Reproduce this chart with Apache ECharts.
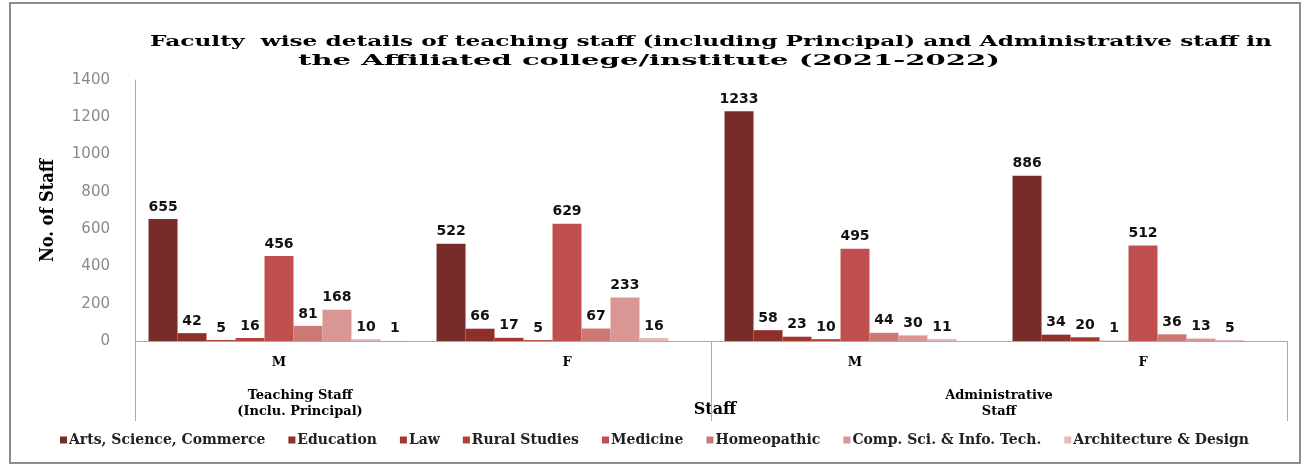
<!DOCTYPE html>
<html>
<head>
<meta charset="utf-8">
<script src="https://cdn.jsdelivr.net/npm/echarts@6/dist/echarts.min.js"></script>
<style>
html,body{margin:0;padding:0;background:#fff;}
#c{width:1309px;height:473px;}
</style>
</head>
<body>
<div id="c"></div>
<script>
const titleLines = ['Faculty  wise details of teaching staff (including Principal) and Administrative staff in', 'the Affiliated college/institute (2021-2022)'];
const categories = ['M', 'F', 'M', 'F'];
const groups = ['Teaching Staff\n(Inclu. Principal)', 'Administrative\nStaff'];
const seriesNames = ['Arts, Science, Commerce', 'Education', 'Law', 'Rural Studies', 'Medicine', 'Homeopathic', 'Comp. Sci. & Info. Tech.', 'Architecture & Design', 'Others'];
const artsSciCom   = [655, 522, 1233, 886];
const education    = [42, 66, 58, 34];
const law          = [5, 17, 23, 20];
const ruralStudies = [16, 5, 10, 1];
const medicine     = [456, 629, 495, 512];
const homeopathic  = [81, 67, 44, 36];
const compSci      = [168, 233, 30, 13];
const architecture = [10, 16, 11, 5];
const others       = [1, null, null, null];
const yTicks = [0, 200, 400, 600, 800, 1000, 1200, 1400];

const values = [artsSciCom, education, law, ruralStudies, medicine, homeopathic, compSci, architecture, others];
const colors = ['#772c2a', '#8e2f2c', '#a2372f', '#b3423d', '#c0504d', '#cc7876', '#d99694', '#e6b9b8', '#f0d5d4'];

const serif = '"DejaVu Serif", serif';
const titleFont = 'bold 14px "DejaVu Serif", serif';
// stretch title lines horizontally to the reference's wide typeface
const ctx = document.createElement('canvas').getContext('2d');
ctx.font = titleFont;
const titleSpans = [[150, 1272], [298, 1000]];
const titleY = [35, 54];
const titleGraphics = titleLines.map(function (t, i) {
  const w = ctx.measureText(t).width;
  const target = titleSpans[i][1] - titleSpans[i][0];
  return {
    type: 'text', x: (titleSpans[i][0] + titleSpans[i][1]) / 2, y: titleY[i],
    scaleX: target / w, silent: true,
    style: { text: t, x: 0, y: 0, align: 'center', verticalAlign: 'top', font: titleFont, fill: '#000' }
  };
});

const chart = echarts.init(document.getElementById('c'));
const option = {
  animation: false,
  backgroundColor: '#fff',
  graphic: [{
    type: 'rect', shape: { x: 10, y: 3, width: 1290, height: 460 },
    style: { fill: 'none', stroke: '#8c8c8c', lineWidth: 2 }, silent: true
  }].concat(titleGraphics),
  legend: {
    data: seriesNames.slice(0, 8),
    bottom: 21, left: 'center',
    itemWidth: 7, itemHeight: 7, itemGap: 23,
    icon: 'rect',
    textStyle: { fontFamily: serif, fontWeight: 'bold', fontSize: 14, color: '#222', padding: [0, 0, 0, -3] }
  },
  grid: { left: 135, right: 22, top: 80, bottom: 132 },
  xAxis: [{
    type: 'category', data: categories, position: 'bottom',
    axisLine: { lineStyle: { color: '#aaa' } },
    axisTick: { show: false },
    axisLabel: { margin: 15, fontFamily: serif, fontWeight: 'bold', fontSize: 13, color: '#000' }
  }, {
    type: 'category', data: groups, position: 'bottom',
    axisLine: { show: false },
    axisTick: { show: true, length: 80, lineStyle: { color: '#aaa' } },
    axisLabel: {
      margin: 47, interval: 0,
      formatter: function (v, i) { return i === 0 ? '{a|' + v.replace('\n', '}\n{a|') + '}' : '{b|' + v.replace('\n', '}\n{b|') + '}'; },
      rich: {
        a: { fontFamily: serif, fontWeight: 'bold', fontSize: 13, color: '#000', lineHeight: 16, padding: [0, 246, 0, 0] },
        b: { fontFamily: serif, fontWeight: 'bold', fontSize: 13, color: '#000', lineHeight: 16 }
      }
    },
    name: 'Staff', nameLocation: 'middle', nameGap: 61, nameMoveOverlap: false,
    nameTextStyle: { fontFamily: serif, fontWeight: 'bold', fontSize: 16, color: '#000', padding: [0, 0, 0, 8] }
  }],
  yAxis: {
    type: 'value', min: 0, max: 1400, interval: 200,
    axisLine: { show: true, lineStyle: { color: '#aaa' } },
    axisTick: { show: false },
    splitLine: { show: false },
    axisLabel: { margin: 25, fontFamily: '"DejaVu Sans", sans-serif', fontSize: 15, color: '#8a8a8a',
      formatter: function (v) { return yTicks.indexOf(v) >= 0 ? String(v) : ''; } },
    name: 'No. of Staff', nameLocation: 'middle', nameGap: 78, nameRotate: 90, nameMoveOverlap: false,
    nameTextStyle: { fontFamily: '"DejaVu Serif Condensed", "DejaVu Serif", serif', fontWeight: 'bold', fontSize: 18, color: '#000' }
  },
  series: seriesNames.map(function (n, i) {
    return {
      name: n, type: 'bar', data: values[i], xAxisIndex: 0,
      barGap: 0, barCategoryGap: '9.4%',
      itemStyle: { color: colors[i] },
      label: { show: true, position: 'top', distance: 5, fontFamily: '"DejaVu Sans", sans-serif', fontWeight: 'bold', fontSize: 14, color: '#111' }
    };
  })
};
chart.setOption(option);
</script>
</body>
</html>
